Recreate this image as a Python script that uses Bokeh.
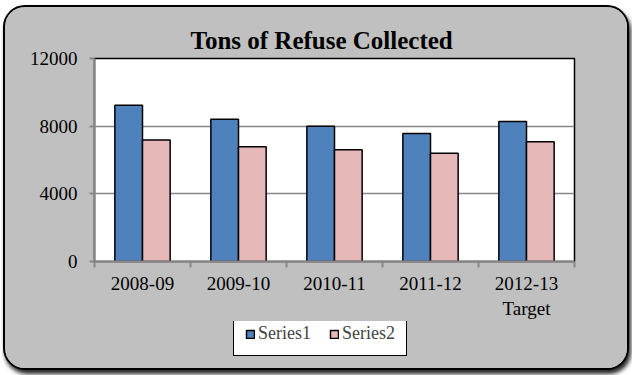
from bokeh.plotting import figure
from bokeh.layouts import column
from bokeh.models import ColumnDataSource, Range1d, FixedTicker, Legend, LegendItem
from bokeh.transform import dodge
from bokeh.embed import file_html
from bokeh.resources import INLINE

# ---- data ----
periods = ["2008-09", "2009-10", "2010-11", "2011-12", "2012-13\nTarget"]
series1 = [9230, 8410, 7990, 7570, 8280]
series2 = [7180, 6790, 6600, 6400, 7080]
series_names = ["Series1", "Series2"]
y_ticks = [0, 4000, 8000, 12000]
title_text = "Tons of Refuse Collected"

FONT = "Liberation Serif"
BLUE = "#4F81BD"
PINK = "#E6B9B8"
GRID = "#868686"
BG = "#C0C0C0"

pos = [i + 0.5 for i in range(len(periods))]
src = ColumnDataSource(dict(x=pos, s1=series1, s2=series2, label=periods))

p = figure(
    width=622, height=314,
    output_backend="svg", toolbar_location=None,
    x_range=Range1d(0, len(periods)), y_range=Range1d(0, 12000),
    min_border_left=89, min_border_top=51, min_border_right=53, min_border_bottom=58,
    border_fill_color=BG, background_fill_color="white",
    outline_line_color="black", outline_line_width=1.5,
)

p.title.text = title_text
p.title.text_font = FONT
p.title.text_font_size = "25px"
p.title.text_font_style = "bold"
p.title.text_color = "black"
p.title.align = "left"
p.title.offset = 96
p.title.standoff = 10

bw = 0.288
r1 = p.vbar(x=dodge("x", -bw / 2, range=p.x_range), top="s1", width=bw, source=src,
            fill_color=BLUE, line_color="black", line_width=1.5)
r2 = p.vbar(x=dodge("x", bw / 2, range=p.x_range), top="s2", width=bw, source=src,
            fill_color=PINK, line_color="black", line_width=1.5)

# x axis: labels at centres, ticks at category boundaries
xa = p.xaxis[0]
xa.ticker = FixedTicker(ticks=pos, minor_ticks=list(range(len(periods) + 1)))
xa.major_label_overrides = {x: lab for x, lab in zip(pos, periods)}
xa.major_tick_line_color = None
xa.major_tick_out = 0
xa.minor_tick_line_color = GRID
xa.minor_tick_line_width = 2
xa.minor_tick_out = 6
xa.minor_tick_in = 0
xa.axis_line_color = GRID
xa.axis_line_width = 2
xa.major_label_text_font = FONT
xa.major_label_text_font_size = "19px"
xa.major_label_text_color = "black"
xa.major_label_standoff = 5

ya = p.yaxis[0]
ya.ticker = FixedTicker(ticks=y_ticks, minor_ticks=[])
ya.axis_line_color = GRID
ya.axis_line_width = 2
ya.major_tick_line_color = GRID
ya.major_tick_line_width = 2
ya.major_tick_out = 5
ya.major_tick_in = 0
ya.minor_tick_line_color = None
ya.major_label_text_font = FONT
ya.major_label_text_font_size = "19px"
ya.major_label_text_color = "black"
ya.major_label_standoff = 12

p.xgrid.grid_line_color = None
p.ygrid.ticker = FixedTicker(ticks=y_ticks[1:-1])
p.ygrid.grid_line_color = GRID
p.ygrid.grid_line_width = 1.5

# ---- legend strip (its own frame, so the legend is not clipped by the chart) ----
lf = figure(
    width=622, height=47,
    output_backend="svg", toolbar_location=None,
    x_range=Range1d(0, 1), y_range=Range1d(0, 1),
    x_axis_type=None, y_axis_type=None,
    min_border=0, border_fill_color=BG, background_fill_color=BG,
    outline_line_color=None,
)
lf.xgrid.grid_line_color = None
lf.ygrid.grid_line_color = None
# swatch-only renderers: their single point is missing, so they draw nothing themselves
nan = float("nan")
swatch = ColumnDataSource(dict(x=[nan], top=[nan]))
lr1 = lf.vbar(x="x", top="top", width=0.1, source=swatch,
              fill_color=BLUE, line_color="black", line_width=1.5)
lr2 = lf.vbar(x="x", top="top", width=0.1, source=swatch,
              fill_color=PINK, line_color="black", line_width=1.5)

legend = Legend(
    items=[LegendItem(label=series_names[0], renderers=[lr1]),
           LegendItem(label=series_names[1], renderers=[lr2])],
    orientation="horizontal", location=(139, 12),
    border_line_color="black", border_line_width=1.5, border_line_alpha=1,
    background_fill_color="white", background_fill_alpha=1,
    label_text_font=FONT, label_text_font_size="18px",
    glyph_width=10, glyph_height=10, label_standoff=3, spacing=18,
    padding=11, margin=0, label_height=18,
)
lf.add_layout(legend, "center")

layout = column(
    p, lf, spacing=0, margin=(5, 0, 0, 3),
    styles={"border": "2px solid black", "border-radius": "22px",
            "box-shadow": "2px 4px 4px rgba(0,0,0,0.85)", "overflow": "hidden",
            "background-color": BG},
)

open("out.html", "w").write(file_html(layout, INLINE))
